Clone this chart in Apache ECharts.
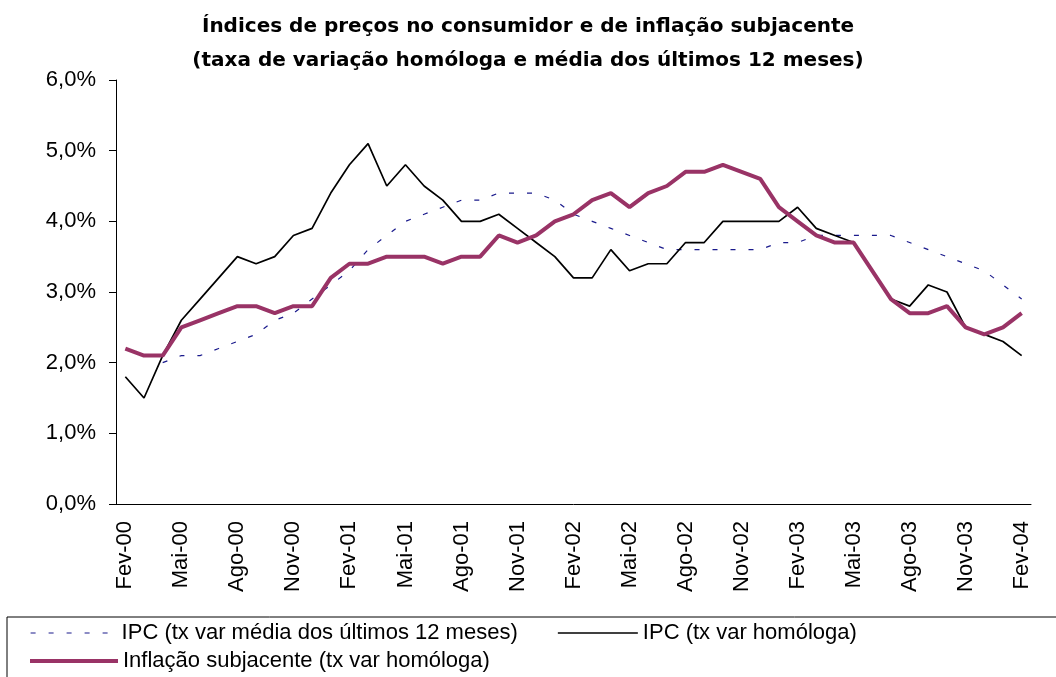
<!DOCTYPE html>
<html>
<head>
<meta charset="utf-8">
<title>IPC e inflação subjacente</title>
<script src="https://cdn.jsdelivr.net/npm/echarts@6/dist/echarts.min.js"></script>
<style>
	html, body { margin: 0; padding: 0; background: #fff; }
	#chart { width: 1056px; height: 677px; }
</style>
</head>
<body>
<div id="chart"></div>
<script>
var meses = ['Fev-00','Mar-00','Abr-00','Mai-00','Jun-00','Jul-00','Ago-00','Set-00','Out-00','Nov-00','Dez-00','Jan-01',
	'Fev-01','Mar-01','Abr-01','Mai-01','Jun-01','Jul-01','Ago-01','Set-01','Out-01','Nov-01','Dez-01','Jan-02',
	'Fev-02','Mar-02','Abr-02','Mai-02','Jun-02','Jul-02','Ago-02','Set-02','Out-02','Nov-02','Dez-02','Jan-03',
	'Fev-03','Mar-03','Abr-03','Mai-03','Jun-03','Jul-03','Ago-03','Set-03','Out-03','Nov-03','Dez-03','Jan-04',
	'Fev-04'];

// IPC (tx var média dos últimos 12 meses)
var ipcMedia = [null, null, 2.0, 2.1, 2.1, 2.2, 2.3, 2.4, 2.6, 2.7, 2.9, 3.1,
	3.3, 3.6, 3.8, 4.0, 4.1, 4.2, 4.3, 4.3, 4.4, 4.4, 4.4, 4.3,
	4.1, 4.0, 3.9, 3.8, 3.7, 3.6, 3.6, 3.6, 3.6, 3.6, 3.6, 3.7,
	3.7, 3.8, 3.8, 3.8, 3.8, 3.8, 3.7, 3.6, 3.5, 3.4, 3.3, 3.1,
	2.9];

// IPC (tx var homóloga)
var ipcHomologa = [1.8, 1.5, 2.1, 2.6, 2.9, 3.2, 3.5, 3.4, 3.5, 3.8, 3.9, 4.4,
	4.8, 5.1, 4.5, 4.8, 4.5, 4.3, 4.0, 4.0, 4.1, 3.9, 3.7, 3.5,
	3.2, 3.2, 3.6, 3.3, 3.4, 3.4, 3.7, 3.7, 4.0, 4.0, 4.0, 4.0,
	4.2, 3.9, 3.8, 3.7, 3.3, 2.9, 2.8, 3.1, 3.0, 2.5, 2.4, 2.3,
	2.1];

// Inflação subjacente (tx var homóloga)
var subjacente = [2.2, 2.1, 2.1, 2.5, 2.6, 2.7, 2.8, 2.8, 2.7, 2.8, 2.8, 3.2,
	3.4, 3.4, 3.5, 3.5, 3.5, 3.4, 3.5, 3.5, 3.8, 3.7, 3.8, 4.0,
	4.1, 4.3, 4.4, 4.2, 4.4, 4.5, 4.7, 4.7, 4.8, 4.7, 4.6, 4.2,
	4.0, 3.8, 3.7, 3.7, 3.3, 2.9, 2.7, 2.7, 2.8, 2.5, 2.4, 2.5,
	2.7];

var nomes = ['IPC (tx var média dos últimos 12 meses)', 'IPC (tx var homóloga)', 'Inflação subjacente (tx var homóloga)'];

var fonte = '"Liberation Sans", Arial, sans-serif';

var myChart = echarts.init(document.getElementById('chart'));

//legenda: uma caixa por item, sem o símbolo do ponto
var legendaItem = function (nome, left, top, largura, espessura) {
	return {
		data: [nome],
		left: left,
		top: top,
		padding: 0,
		itemWidth: largura,
		itemHeight: 14,
		itemStyle: { opacity: 0 },
		lineStyle: { width: espessura },
		textStyle: { fontFamily: fonte, fontSize: 22, color: '#000' }
	};
};

var option = {
	animation: false,
	backgroundColor: '#fff',
	title: {
		text: 'Índices de preços no consumidor e de inflação subjacente\n(taxa de variação homóloga e média dos últimos 12 meses)',
		left: 'center',
		top: 5,
		textStyle: {
			fontFamily: '"DejaVu Sans", Arial, sans-serif',
			fontSize: 20,
			fontWeight: 'bold',
			color: '#000',
			lineHeight: 34
		}
	},
	graphic: [{
		type: 'rect',
		shape: { x: 7, y: 617, width: 1100, height: 100 },
		style: { fill: 'none', stroke: '#000', lineWidth: 1 }
	}],
	legend: [
		legendaItem(nomes[0], 30, 622, 86, 1.2),
		legendaItem(nomes[1], 557, 622, 80, 1.7),
		legendaItem(nomes[2], 28, 650, 88, 4)
	],
	grid: {
		left: 116,
		right: 25,
		top: 80,
		bottom: 173,
		containLabel: false
	},
	xAxis: {
		type: 'category',
		data: meses,
		boundaryGap: true,
		axisLine: { lineStyle: { color: '#000', width: 1 } },
		axisTick: { interval: 0, length: 6, lineStyle: { color: '#000' } },
		axisLabel: {
			interval: 2,
			rotate: 90,
			margin: 17,
			fontFamily: fonte,
			fontSize: 22,
			color: '#000'
		},
		splitLine: { show: false }
	},
	yAxis: {
		type: 'value',
		min: 0,
		max: 6,
		interval: 1,
		axisLine: { show: true, lineStyle: { color: '#000', width: 1 } },
		axisTick: { show: true, length: 7, lineStyle: { color: '#000' } },
		axisLabel: {
			margin: 20,
			fontFamily: fonte,
			fontSize: 22,
			color: '#000',
			formatter: function (v) { return v.toFixed(1).replace('.', ',') + '%'; }
		},
		splitLine: { show: false }
	},
	series: [
		{
			name: nomes[0],
			type: 'line',
			data: ipcMedia,
			symbol: 'none',
			lineStyle: { color: '#1a1a8c', width: 1.2, type: [5, 13] },
			itemStyle: { color: '#1a1a8c' }
		},
		{
			name: nomes[1],
			type: 'line',
			data: ipcHomologa,
			symbol: 'none',
			lineStyle: { color: '#000', width: 1.7 },
			itemStyle: { color: '#000' }
		},
		{
			name: nomes[2],
			type: 'line',
			data: subjacente,
			symbol: 'none',
			lineStyle: { color: '#993366', width: 4 },
			itemStyle: { color: '#993366' }
		}
	]
};
myChart.setOption(option);
window.addEventListener('resize', function () {
	myChart.resize();
});
</script>
</body>
</html>
